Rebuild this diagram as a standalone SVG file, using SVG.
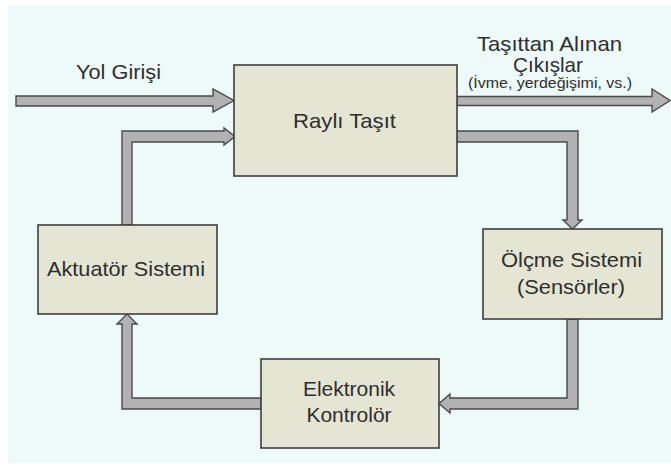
<svg xmlns="http://www.w3.org/2000/svg" width="671" height="467" viewBox="0 0 671 467">
<style>
.node rect{fill:#e5e5d4;stroke:#3f3f3f;stroke-width:1.6}
.conn polygon{fill:#b2b2b2;stroke:#4a4a4a;stroke-width:1.4;stroke-linejoin:miter}
text{font-family:"Liberation Sans",Arial,sans-serif;fill:#2e2e2e;font-size:21px;text-anchor:middle}
.small{font-size:14px}
</style>
<rect x="0" y="0" width="671" height="467" fill="#ffffff"/>
<rect x="8" y="5" width="663" height="458" fill="#eef9fa"/>
<g class="conn" id="connectors">
<polygon points="16,96 213,96 213,89 234,100.5 213,112 213,106 16,106"/>
<polygon points="457,96.5 652,96.5 652,89 670,100.5 652,112 652,105.5 457,105.5"/>
<polygon points="122,225 122,131 224,131 224,128 235,136.5 224,145 224,142 132,142 132,225"/>
<polygon points="457,131 578,131 578,220 582,220 572.5,229 563,220 567,220 567,142 457,142"/>
<polygon points="567,319 578,319 578,409 450,409 450,413 439,403.5 450,394 450,398 567,398"/>
<polygon points="261,398 132,398 132,324 137,324 127,314 117,324 122,324 122,409 261,409"/>
</g>
<g id="labels">
<text x="118.5" y="79" textLength="85" lengthAdjust="spacingAndGlyphs">Yol Girişi</text>
<text x="549.5" y="51" textLength="145" lengthAdjust="spacingAndGlyphs">Taşıttan Alınan</text>
<text x="548" y="72" textLength="70" lengthAdjust="spacingAndGlyphs">Çıkışlar</text>
<text class="small" x="550" y="88" textLength="164" lengthAdjust="spacingAndGlyphs">(İvme, yerdeğişimi, vs.)</text>
</g>
<g class="node" id="rayli-tasit">
<rect x="234" y="65" width="223" height="111"/>
<text x="344.5" y="128" textLength="103" lengthAdjust="spacingAndGlyphs">Raylı Taşıt</text>
</g>
<g class="node" id="aktuator">
<rect x="38" y="225" width="179" height="89"/>
<text x="126" y="276" textLength="158" lengthAdjust="spacingAndGlyphs">Aktuatör Sistemi</text>
</g>
<g class="node" id="olcme">
<rect x="483" y="229" width="179" height="90"/>
<text x="571.5" y="267" textLength="141" lengthAdjust="spacingAndGlyphs">Ölçme Sistemi</text>
<text x="571" y="294" textLength="108" lengthAdjust="spacingAndGlyphs">(Sensörler)</text>
</g>
<g class="node" id="elektronik">
<rect x="261" y="359" width="178" height="89"/>
<text x="349" y="396">Elektronik</text>
<text x="349" y="422">Kontrolör</text>
</g>
</svg>
